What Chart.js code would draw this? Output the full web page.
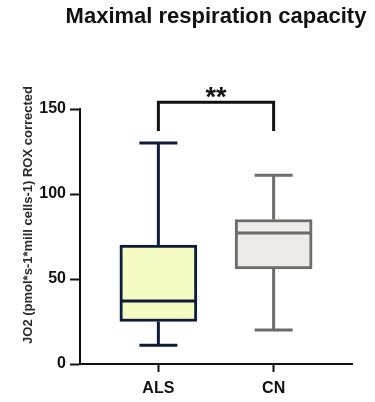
<!DOCTYPE html>
<html>
<head>
<meta charset="utf-8">
<script src="https://cdn.jsdelivr.net/npm/chart.js@4"></script>
<style>
  html, body { margin: 0; padding: 0; background: #fff; }
  #wrap { width: 375px; height: 402px; }
</style>
</head>
<body>
<div id="wrap"><canvas id="respChart" width="375" height="402"></canvas></div>
<script>
// box plot summary per group
const groups = ['ALS', 'CN'];
const mins = [11, 20];
const q1s = [25, 56];
const medians = [37, 77];
const q3s = [70, 85];
const maxes = [130, 111];
const yTicks = [0, 50, 100, 150];

const fills = ['#f4fbc3', '#edebe7'];
const strokes = ['#0c1d3b', '#6b6b69'];
const FONT = "'Liberation Sans', Arial, sans-serif";

// whiskers, caps, medians, significance bracket, titles
const boxExtras = {
  id: 'boxExtras',
  afterDatasetsDraw(chart) {
    const { ctx, chartArea, scales: { x, y } } = chart;
    const meta = chart.getDatasetMeta(0);
    ctx.save();
    ctx.lineCap = 'butt';
    meta.data.forEach((bar, i) => {
      const cx = x.getPixelForValue(i);
      const half = bar.width / 2;
      const capHalf = 19;
      ctx.strokeStyle = strokes[i];
      ctx.lineWidth = 3;
      ctx.beginPath();
      // upper whisker + cap
      ctx.moveTo(cx, y.getPixelForValue(q3s[i]));
      ctx.lineTo(cx, y.getPixelForValue(maxes[i]));
      ctx.moveTo(cx - capHalf, y.getPixelForValue(maxes[i]));
      ctx.lineTo(cx + capHalf, y.getPixelForValue(maxes[i]));
      // lower whisker + cap
      ctx.moveTo(cx, y.getPixelForValue(q1s[i]));
      ctx.lineTo(cx, y.getPixelForValue(mins[i]));
      ctx.moveTo(cx - capHalf, y.getPixelForValue(mins[i]));
      ctx.lineTo(cx + capHalf, y.getPixelForValue(mins[i]));
      // median
      ctx.moveTo(cx - half + 1.5, y.getPixelForValue(medians[i]));
      ctx.lineTo(cx + half - 1.5, y.getPixelForValue(medians[i]));
      ctx.stroke();
    });

    // ** bracket between the two groups
    const bx0 = x.getPixelForValue(0);
    const bx1 = x.getPixelForValue(1);
    const top = y.getPixelForValue(154);
    const leg = y.getPixelForValue(137);
    ctx.strokeStyle = '#111';
    ctx.lineWidth = 3;
    ctx.lineJoin = 'miter';
    ctx.beginPath();
    ctx.moveTo(bx0, leg);
    ctx.lineTo(bx0, top);
    ctx.lineTo(bx1, top);
    ctx.lineTo(bx1, leg);
    ctx.stroke();
    ctx.fillStyle = '#111';
    ctx.font = 'bold 27px ' + FONT;
    ctx.textAlign = 'center';
    ctx.textBaseline = 'middle';
    ctx.fillText('**', (bx0 + bx1) / 2, top - 4);

    // chart title, centred over the plot area
    ctx.font = 'bold 22px ' + FONT;
    ctx.fillText('Maximal respiration capacity', (chartArea.left + chartArea.right) / 2, 17);

    // y axis title
    ctx.translate(28, 215);
    ctx.rotate(-Math.PI / 2);
    ctx.font = 'bold 13px ' + FONT;
    ctx.fillStyle = '#2a2a2a';
    ctx.fillText('JO2 (pmol*s-1*mill cells-1) ROX corrected', 0, 0);
    ctx.restore();
  }
};

new Chart(document.getElementById('respChart'), {
  type: 'bar',
  data: {
    datasets: [{
      data: groups.map((g, i) => ({ x: i, y: [q1s[i], q3s[i]] })),
      backgroundColor: fills,
      borderColor: strokes,
      borderWidth: 3,
      borderSkipped: false,
      barThickness: 77
    }]
  },
  options: {
    responsive: false,
    animation: false,
    layout: { padding: { left: 0, right: 23, top: 109, bottom: 0 } },
    plugins: {
      legend: { display: false },
      tooltip: { enabled: false },
      title: { display: false }
    },
    scales: {
      x: {
        type: 'linear',
        min: -0.68,
        max: 1.68,
        offset: false,
        afterBuildTicks: (axis) => { axis.ticks = groups.map((g, i) => ({ value: i })); },
        afterFit: (axis) => { axis.height = 38; },
        grid: { offset: false, drawOnChartArea: false, tickLength: 8, tickWidth: 2, tickColor: '#111' },
        border: { color: '#111', width: 2 },
        ticks: {
          color: '#111',
          padding: 7,
          font: { family: FONT, size: 16, weight: 'bold' },
          callback: (v) => groups[v]
        }
      },
      y: {
        min: 0,
        max: 150,
        afterBuildTicks: (axis) => { axis.ticks = yTicks.map(v => ({ value: v })); },
        afterFit: (axis) => { axis.width = 80; },
        grid: { drawOnChartArea: false, tickLength: 10, tickWidth: 2, tickColor: '#111' },
        border: { color: '#111', width: 2 },
        ticks: {
          color: '#111',
          padding: 4,
          font: { family: FONT, size: 16, weight: 'bold' }
        }
      }
    }
  },
  plugins: [boxExtras]
});
</script>
</body>
</html>
